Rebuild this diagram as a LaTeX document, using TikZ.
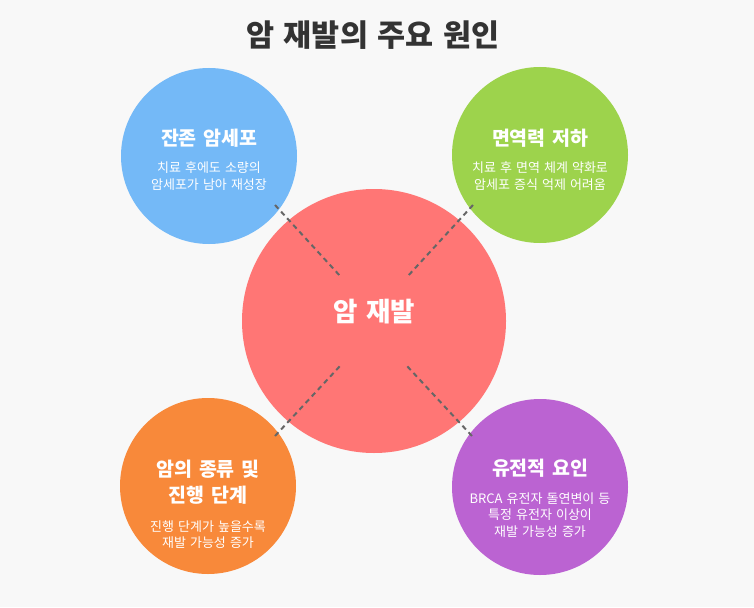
\documentclass[tikz,border=0pt]{standalone}
\usepackage{fontspec}
\usepackage{xcolor}
\setmainfont{Noto Sans CJK KR}[WordSpace=1.4]
\usetikzlibrary{positioning}
\definecolor{bgGray}{HTML}{F8F8F8}
\definecolor{titleGray}{HTML}{333333}
\definecolor{dashGray}{HTML}{666666}
\definecolor{relapseRed}{HTML}{FF7675}
\definecolor{cellBlue}{HTML}{74B9F7}
\definecolor{immuneGreen}{HTML}{9DD34C}
\definecolor{stageOrange}{HTML}{F8893A}
\definecolor{genePurple}{HTML}{BB63D2}
\tikzset{%
  cause/.style={circle, inner sep=0pt, minimum size=176pt},
  hub/.style={circle, inner sep=0pt, minimum size=264pt},
  head/.style={text=white, font=\bfseries\fontsize{19.5}{26}\selectfont, align=center, inner sep=0pt},
  note/.style={text=white, font=\fontsize{13}{16.7}\selectfont, align=center, inner sep=0pt},
  link/.style={draw=dashGray, line width=2pt, dash pattern=on 5pt off 4pt}
}

\begin{document}
\begin{tikzpicture}[x=1pt,y=-1pt]

\fill[bgGray] (0,0) rectangle (754,607);
\useasboundingbox (0,0) rectangle (754,607);

\node[font=\bfseries\fontsize{30.5}{34}\selectfont, text=titleGray, inner sep=0pt] (title) at (373,35) {암 재발의 주요 원인};

\node[hub, fill=relapseRed] (relapse) at (374,321) {};
\node[cause, fill=cellBlue] (residual) at (209,156) {};
\node[cause, fill=immuneGreen] (immune) at (540,155) {};
\node[cause, fill=stageOrange] (stage) at (208,486) {};
\node[cause, fill=genePurple] (gene) at (540,487) {};

\coordinate (residualEnd) at (275,205);
\coordinate (residualHub) at (341,277);
\coordinate (immuneEnd) at (473,205);
\coordinate (immuneHub) at (407,277);
\coordinate (stageEnd) at (275,436);
\coordinate (stageHub) at (340,366);
\coordinate (geneEnd) at (472,436);
\coordinate (geneHub) at (407,366);
\draw[link] (residualEnd) -- (residualHub);
\draw[link] (immuneEnd) -- (immuneHub);
\draw[link] (stageEnd) -- (stageHub);
\draw[link] (geneEnd) -- (geneHub);

\node[text=white, font=\bfseries\fontsize{26.5}{30}\selectfont, inner sep=0pt] (relapseHead) at (374,312) {암 재발};

\node[head] (residualHead) at (209,138) {잔존 암세포};
\node[note] (residualNote) at (209,176) {치료 후에도 소량의\\암세포가 남아 재성장};

\node[head] (immuneHead) at (540,138) {면역력 저하};
\node[note] (immuneNote) at (540,176) {치료 후 면역 체계 약화로\\암세포 증식 억제 어려움};

\node[head] (stageHead) at (208,482) {암의 종류 및\\진행 단계};
\node[note] (stageNote) at (208,534.5) {진행 단계가 높을수록\\재발 가능성 증가};

\node[head] (geneHead) at (540,468) {유전적 요인};
\node[note] (geneNote) at (540,515) {BRCA 유전자 돌연변이 등\\특정 유전자 이상이\\재발 가능성 증가};

\end{tikzpicture}
\end{document}
